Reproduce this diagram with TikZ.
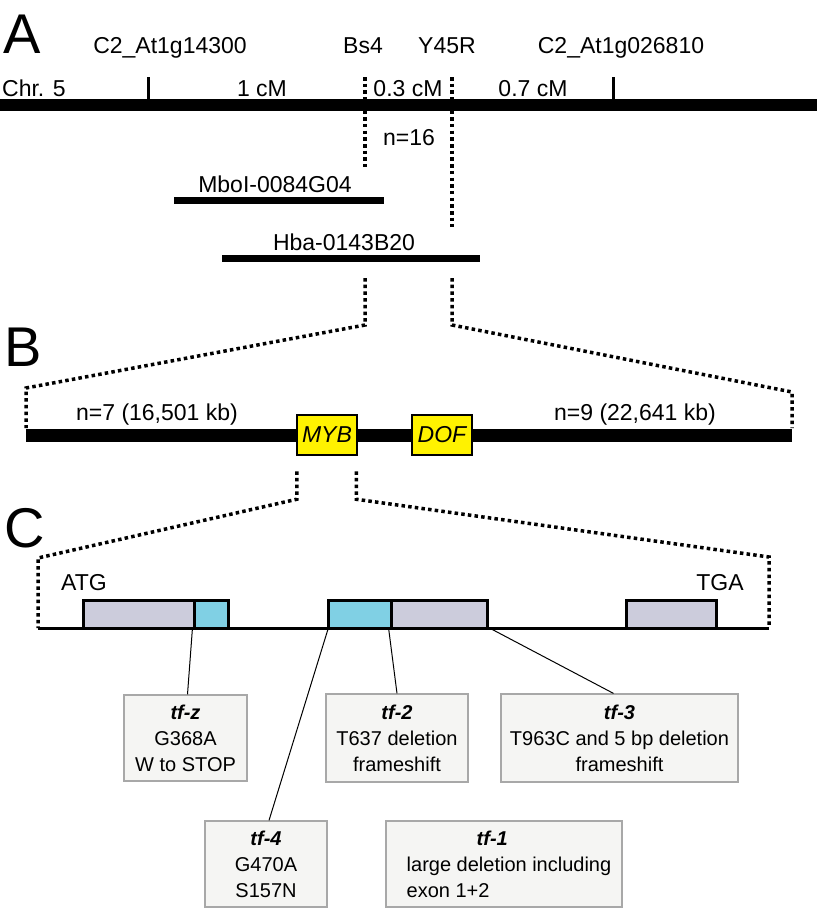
\documentclass[tikz,border=0pt]{standalone}
\usepackage{fontspec}
\setmainfont{Liberation Sans}
\usetikzlibrary{calc}
\usetikzlibrary{positioning}
\definecolor{exongray}{RGB}{204,204,220}
\definecolor{exoncyan}{RGB}{128,208,228}
\definecolor{boxfill}{RGB}{245,245,243}
\definecolor{boxline}{RGB}{168,168,168}
\tikzset{
	chromline/.style={line width=12pt},
	chromtick/.style={line width=3pt},
	bacline/.style={line width=7pt},
	zoomline/.style={line width=3.5pt, dash pattern=on 3.5pt off 3.2pt},
	geneline/.style={line width=3pt},
	lbl/.style={inner sep=0pt, anchor=base, font=\fontsize{23}{27}\selectfont},
	panel/.style={inner sep=0pt, anchor=base west, font=\fontsize{56}{60}\selectfont},
	genebox/.style={
		rectangle,
		draw=black, line width=2.5pt,
		fill=yellow,
		minimum width=60pt,
		minimum height=40pt,
		inner sep=0pt,
		font=\fontsize{23}{27}\selectfont\itshape},
	exon/.style={
		rectangle,
		draw=black, line width=3pt,
		minimum height=28pt,
		inner sep=0pt},
	mutbox/.style={
		rectangle,
		draw=boxline, line width=1.2pt,
		fill=boxfill,
		inner sep=0pt,
		align=center,
		font=\fontsize{20}{26}\selectfont},
	pointer/.style={line width=1pt},
}
\newcommand{\mutname}[1]{{\bfseries\itshape #1}}

\begin{document}
\begin{tikzpicture}[x=1pt, y=-1pt]
	\useasboundingbox (0,0) rectangle (817,908);

	% A: map
	\node[panel] (pa) at (3,53) {A};
	\node[lbl] (m1) at (170,53) {C2\_At1g14300};
	\node[lbl] (bs4) at (363,53) {Bs4};
	\node[lbl] (y45r) at (447,53) {Y45R};
	\node[lbl] (m2) at (621,53) {C2\_At1g026810};
	\node[lbl, anchor=base west] (chr) at (2,96) {Chr. 5};
	\node[lbl] (d1) at (262,96) {1 cM};
	\node[lbl] (d2) at (408,96) {0.3 cM};
	\node[lbl] (d3) at (533,96) {0.7 cM};
	\node[lbl] (n16) at (409,145) {n=16};

	\coordinate (bs4top) at (365,77);
	\coordinate (bs4end) at (365,167);
	\coordinate (y45top) at (452,77);
	\coordinate (y45end) at (452,227);
	\draw[zoomline] (bs4top) -- (bs4end);
	\draw[zoomline] (y45top) -- (y45end);
	\coordinate (chrA1) at (0,105);
	\coordinate (chrA2) at (817,105);
	\draw[chromline] (chrA1) -- (chrA2);
	\draw[chromtick] (148,77) -- (148,105);
	\draw[chromtick] (613,77) -- (613,105);

	\node[lbl] (mbol) at (275,192) {MboI-0084G04};
	\coordinate (mbol1) at (174,200);
	\coordinate (mbol2) at (384,200);
	\draw[bacline] (mbol1) -- (mbol2);
	\node[lbl] (hba) at (344,250) {Hba-0143B20};
	\coordinate (hba1) at (222,258);
	\coordinate (hba2) at (480,258);
	\draw[bacline] (hba1) -- (hba2);

	% B: contig
	\node[panel] (pb) at (4,366) {B};
	\coordinate (chrB1) at (26,435);
	\coordinate (chrB2) at (792,435);
	\draw[zoomline] (365,278) -- (365,325) -- (26,388) -- ($(chrB1)+(0,-7)$);
	\draw[zoomline] (452,278) -- (452,325) -- (792,392) -- ($(chrB2)+(0,-7)$);
	\draw[line width=13pt] (chrB1) -- (chrB2);
	\node[genebox] (myb) at (327,435) {MYB};
	\node[genebox] (dof) at (442,435) {DOF};
	\node[lbl] (n7) at (157,420) {n=7 (16,501 kb)};
	\node[lbl] (n9) at (635,420) {n=9 (22,641 kb)};

	% C: gene structure
	\node[panel] (pc) at (4,547) {C};
	\coordinate (gene1) at (38,628);
	\coordinate (gene2) at (769,628);
	\draw[zoomline] ($(myb.south west)+(1,15)$) -- ++(0,28) -- (38,558) -- (gene1);
	\draw[zoomline] ($(myb.south east)+(-2,15)$) -- ++(0,28) -- (769,557) -- (gene2);
	\draw[geneline] (gene1) -- (gene2);
	\node[lbl] (atg) at (84,590) {ATG};
	\node[lbl] (tga) at (720,590) {TGA};

	\node[exon, fill=exongray, minimum width=111pt] (ex1a) at (138.5,614) {};
	\node[exon, fill=exoncyan, minimum width=34pt] (ex1b) at (211,614) {};
	\node[exon, fill=exoncyan, minimum width=63pt] (ex2a) at (359.5,614) {};
	\node[exon, fill=exongray, minimum width=96pt] (ex2b) at (439,614) {};
	\node[exon, fill=exongray, minimum width=90pt] (ex3) at (671,614) {};

	\node[mutbox, minimum width=123pt, minimum height=86pt] (tfz) at (185.5,738)
		{\mutname{tf-z}\\G368A\\W to STOP};
	\node[mutbox, minimum width=142pt, minimum height=88pt] (tf2) at (397,738)
		{\mutname{tf-2}\\T637 deletion\\frameshift};
	\node[mutbox, minimum width=237pt, minimum height=88pt] (tf3) at (619.5,738)
		{\mutname{tf-3}\\T963C and 5 bp deletion\\frameshift};
	\node[mutbox, minimum width=122pt, minimum height=86pt] (tf4) at (266,864)
		{\mutname{tf-4}\\G470A\\S157N};
	\node[mutbox, minimum width=236pt, minimum height=86pt, align=left] (tf1) at (504,864)
		{\hspace*{80pt}\mutname{tf-1}\\\hspace*{10pt}large deletion including\\\hspace*{10pt}exon 1+2};

	\draw[pointer] ([yshift=2pt]ex1b.south west) -- ([xshift=2pt]tfz.north);
	\draw[pointer] ([xshift=2pt,yshift=2pt]ex2a.south west) -- ([xshift=3pt]tf4.north);
	\draw[pointer] ([xshift=-4pt,yshift=2pt]ex2a.south east) -- (tf2.north);
	\draw[pointer] ([yshift=2pt]ex2b.south east) -- ([xshift=-6pt]tf3.north);
\end{tikzpicture}
\end{document}
